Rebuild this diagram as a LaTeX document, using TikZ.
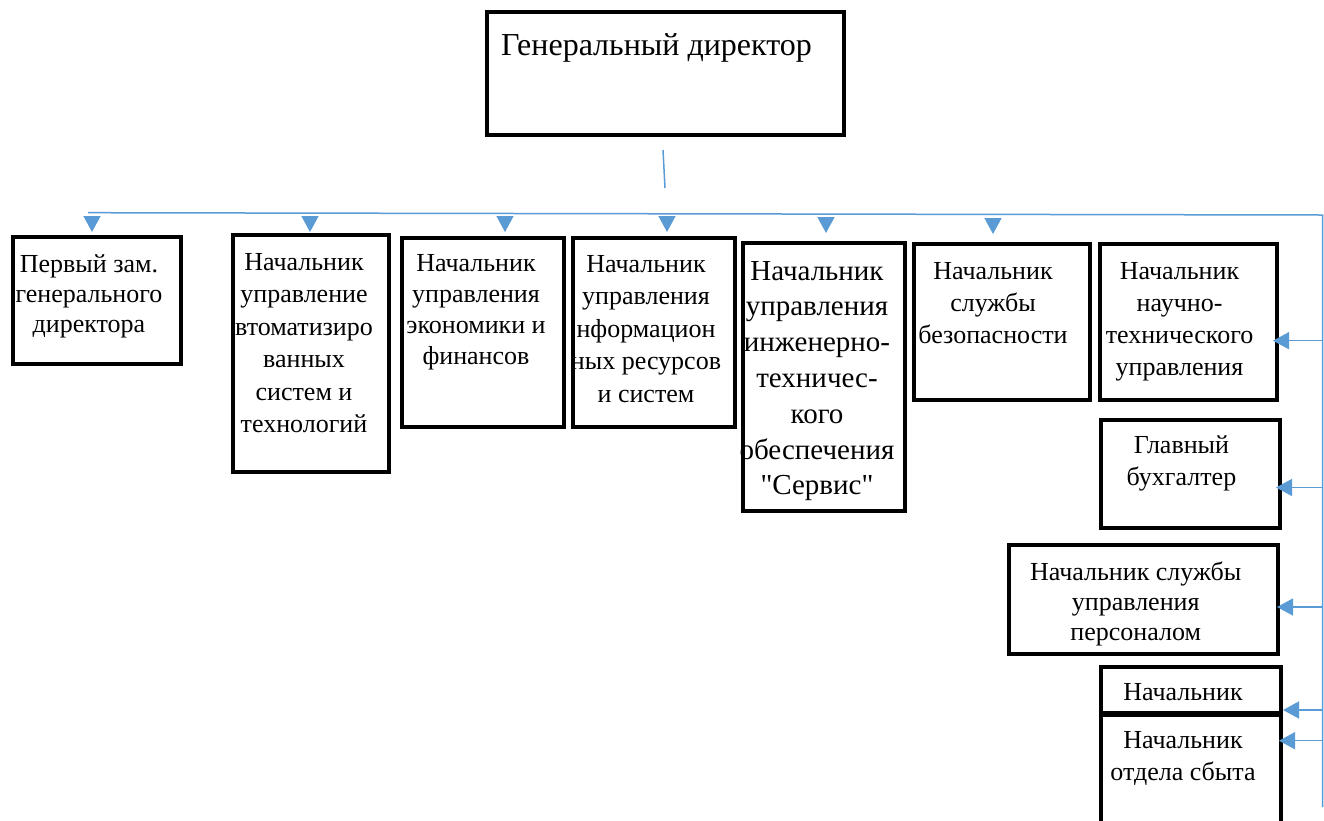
\documentclass[tikz,border=0pt]{standalone}
\usepackage{fontspec}
\setmainfont{Liberation Serif}[Ligatures=TeXOff]
\usetikzlibrary{arrows.meta}
\definecolor{connblue}{HTML}{5B9BD5}
\begin{document}
\begin{tikzpicture}[x=1pt,y=-1pt,
  box/.style={draw=black, line width=4pt, inner sep=0pt},
  lbl/.style={align=center, anchor=base, inner sep=0pt, font=\fontsize{26}{32.5}\selectfont},
  conn/.style={draw=connblue, line width=1.5pt},
  arr/.style={conn, -{Triangle[width=17pt,length=16pt]}}]
\fill[white] (0,0) rectangle (1324,820);
\useasboundingbox (0,0) rectangle (1324,820);
\clip (0,0) rectangle (1324,820);

% boxes
\node[box, minimum width=357pt, minimum height=123pt] (gd) at (665.5,73.5) {};
\node[box, minimum width=168pt, minimum height=127pt] (b1) at (97,300.5) {};
\node[box, minimum width=156pt, minimum height=237pt] (b2) at (311,353.5) {};
\node[box, minimum width=162pt, minimum height=189pt] (b3) at (483,332.5) {};
\node[box, minimum width=162pt, minimum height=189pt] (b4) at (654,332.5) {};
\node[box, minimum width=162pt, minimum height=268pt] (b5) at (824,377) {};
\node[box, minimum width=176pt, minimum height=156pt] (b6) at (1002,322) {};
\node[box, minimum width=177pt, minimum height=156pt] (b7) at (1188.5,322) {};
\node[box, minimum width=179pt, minimum height=108pt] (b8) at (1190.5,474) {};
\node[box, minimum width=269pt, minimum height=109pt] (b9) at (1143.5,599.5) {};
\node[box, minimum width=180pt, minimum height=46pt] (b10) at (1191,690) {};
\node[box, minimum width=180pt, minimum height=123pt] (b11) at (1191,776.5) {};

% texts (anchor = baseline of last line)
\node[lbl, font=\fontsize{32}{38}\selectfont] (t0) at (656.5,55) {Генеральный директор};
\node[lbl, font=\fontsize{26}{30}\selectfont] (t1) at (89,332) {Первый зам.\\генерального\\директора};
\node[lbl] (t2) at (304,432.5) {Начальник\\управление\\втоматизиро\\ванных\\систем и\\технологий};
\node[lbl, font=\fontsize{26}{31}\selectfont] (t3) at (476,364) {Начальник\\управления\\экономики и\\финансов};
\node[lbl] (t4) at (646,402) {Начальник\\управления\\нформацион\\ных ресурсов\\и систем};
\node[lbl, font=\fontsize{29}{35.8}\selectfont] (t5) at (817,494.8) {Начальник\\управления\\инженерно-\\техничес-\\кого\\обеспечения\\"Сервис"};
\node[lbl, font=\fontsize{26}{32}\selectfont] (t6) at (993,343) {Начальник\\службы\\безопасности};
\node[lbl, font=\fontsize{26}{32}\selectfont] (t7) at (1179.5,375) {Начальник\\научно-\\технического\\управления};
\node[lbl, font=\fontsize{26}{32}\selectfont] (t8) at (1181.5,485) {Главный\\бухгалтер};
\node[lbl, font=\fontsize{26}{30}\selectfont] (t9) at (1135.7,640) {Начальник службы\\управления\\персоналом};
\node[lbl] (t10) at (1183,700) {Начальник};
\node[lbl, font=\fontsize{26}{32}\selectfont] (t11) at (1183,780) {Начальник\\отдела сбыта};

% connectors
\coordinate (g1) at (663,150);
\coordinate (g2) at (665,188);
\draw[conn] (g1) -- (g2);
\coordinate (h0) at (88,212.7);
\coordinate (h1) at (1322.5,215);
\coordinate (v1) at (1322.5,807);
\draw[conn] (h0) -- (h1) -- (v1);

\foreach \k/\x/\s in {1/92/3,2/310/1,3/505/4,4/667/4,5/826/8,6/993/8}{
  \coordinate (d\k) at (\x,218);
  \draw[arr, shorten >=\s pt] (d\k) -- (d\k |- b\k.north);
}

\coordinate (r7) at (1322.5,340.7);
\coordinate (r8) at (1322.5,487.5);
\coordinate (r9) at (1322.5,607);
\coordinate (r10) at (1322.5,710);
\coordinate (r11) at (1322.5,740.7);
\draw[arr, shorten >=-6pt] (r7) -- (r7 -| b7.east);
\draw[arr, shorten >=-6pt] (r8) -- (r8 -| b8.east);
\draw[arr, shorten >=-3pt] (r9) -- (r9 -| b9.east);
\draw[arr] (r10) -- (r10 -| b10.east);
\draw[arr, shorten >=-4pt] (r11) -- (r11 -| b11.east);
\end{tikzpicture}
\end{document}
